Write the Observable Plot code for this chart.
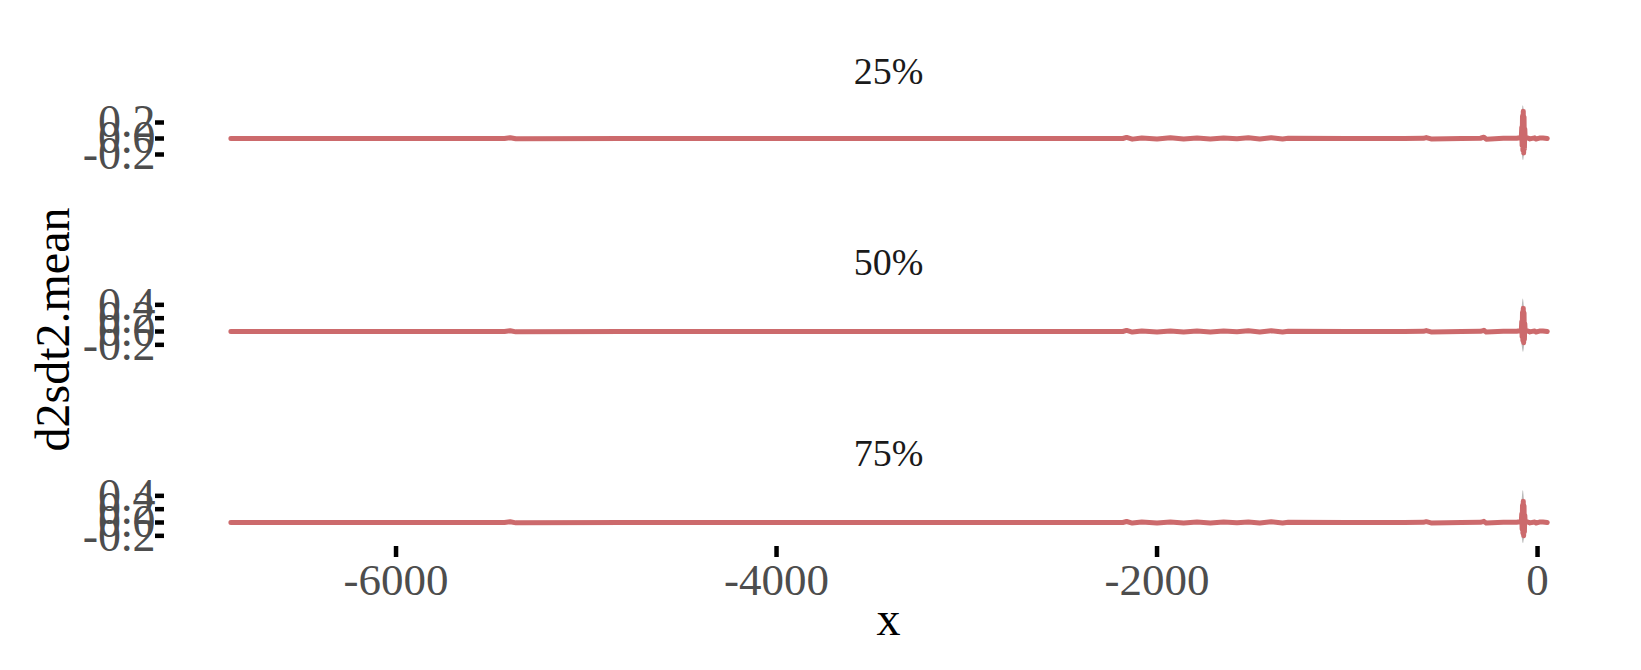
<!DOCTYPE html>
<html><head><meta charset="utf-8">
<script src="https://cdn.jsdelivr.net/npm/d3@7"></script>
<script src="https://cdn.jsdelivr.net/npm/@observablehq/plot@0.6"></script>
<style>
html,body{margin:0;padding:0;background:#fff;}
#chart{position:relative;width:1641px;height:670px;overflow:hidden;background:#fff;}
#chart svg{position:absolute;left:0;top:0;}
</style></head><body><div id="chart"></div>
<script>
const facetLabels = ["25%", "50%", "75%"];
const yTitle = "d2sdt2.mean";
const xTitle = "x";
const xTicks = [-6000, -4000, -2000, 0];
const yTicks25 = [-0.2, 0.0, 0.2];
const yTicks50 = [-0.2, 0.0, 0.2, 0.4];
const yTicks75 = [-0.2, 0.0, 0.2, 0.4];

const xs = [-6868, -6400, -5900, -5430, -5400, -5370, -4800, -4200, -3600, -3000,
  -2500, -2180, -2160, -2130, -2080, -2000, -1930, -1860, -1790, -1720,
  -1650, -1580, -1520, -1460, -1400, -1340, -1310, -1000, -700, -600,
  -585, -560, -400, -300, -282, -270, -180, -110, -92,
  -85, -83, -81, -79, -77, -75, -73, -71, -69, -67, -65,
  -55, -40, -15, -8, 10, 28, 51];

const mean25 = [0.000, 0.001, -0.001, 0.000, 0.010, -0.004, 0.001, 0.000, -0.001, 0.000,
  0.001, 0.000, 0.014, -0.008, 0.006, -0.005, 0.008, -0.006, 0.005, -0.007,
  0.006, -0.004, 0.009, -0.006, 0.010, -0.005, 0.004, 0.000, 0.001, 0.002,
  0.012, -0.006, 0.001, 0.003, 0.016, -0.008, 0.002, 0.003, 0.010,
  0.03, 0.14, -0.09, 0.28, -0.15, 0.34, -0.18, 0.27, -0.13, 0.12, 0.00,
  0.010, -0.005, 0.008, -0.006, 0.005, 0.007, 0.000];
const lo25 = [-0.010, -0.009, -0.011, -0.010, 0.000, -0.014, -0.009, -0.010, -0.011, -0.010,
  -0.009, -0.010, 0.002, -0.019, -0.005, -0.016, -0.003, -0.017, -0.006, -0.018,
  -0.005, -0.015, -0.002, -0.017, -0.001, -0.016, -0.007, -0.010, -0.009, -0.009,
  0.001, -0.017, -0.010, -0.009, 0.003, -0.021, -0.010, -0.010, -0.004,
  -0.03, -0.09, -0.18, -0.22, -0.26, -0.275, -0.275, -0.25, -0.21, -0.10, -0.03,
  -0.008, -0.017, -0.004, -0.018, -0.007, -0.005, -0.012];
const hi25 = [0.010, 0.011, 0.009, 0.010, 0.021, 0.006, 0.011, 0.010, 0.009, 0.010,
  0.011, 0.010, 0.026, 0.003, 0.017, 0.006, 0.019, 0.005, 0.016, 0.004,
  0.017, 0.007, 0.020, 0.005, 0.021, 0.006, 0.015, 0.010, 0.011, 0.013,
  0.024, 0.005, 0.012, 0.014, 0.029, 0.004, 0.013, 0.014, 0.024,
  0.08, 0.21, 0.29, 0.36, 0.40, 0.41, 0.40, 0.36, 0.29, 0.19, 0.04,
  0.022, 0.007, 0.019, 0.005, 0.016, 0.018, 0.010];

const mean50 = [0.000, 0.001, -0.001, 0.000, 0.012, -0.005, 0.001, 0.000, -0.001, 0.000,
  0.001, 0.000, 0.016, -0.009, 0.007, -0.006, 0.009, -0.007, 0.006, -0.008,
  0.007, -0.005, 0.010, -0.007, 0.011, -0.006, 0.005, 0.000, 0.001, 0.002,
  0.014, -0.007, 0.001, 0.003, 0.018, -0.009, 0.002, 0.003, 0.012,
  0.03, 0.15, -0.08, 0.29, -0.14, 0.35, -0.17, 0.28, -0.12, 0.12, 0.00,
  0.012, -0.006, 0.009, -0.007, 0.006, 0.008, 0.000];
const lo50 = [-0.013, -0.012, -0.014, -0.013, -0.001, -0.018, -0.012, -0.013, -0.014, -0.013,
  -0.012, -0.013, 0.002, -0.023, -0.006, -0.019, -0.004, -0.021, -0.007, -0.022,
  -0.006, -0.018, -0.003, -0.020, -0.002, -0.019, -0.008, -0.013, -0.012, -0.011,
  0.000, -0.021, -0.012, -0.011, 0.003, -0.025, -0.012, -0.011, -0.004,
  -0.04, -0.10, -0.20, -0.25, -0.29, -0.31, -0.31, -0.28, -0.24, -0.12, -0.04,
  -0.002, -0.020, -0.005, -0.021, -0.008, -0.006, -0.014];
const hi50 = [0.013, 0.014, 0.012, 0.013, 0.025, 0.008, 0.014, 0.013, 0.012, 0.013,
  0.014, 0.013, 0.030, 0.005, 0.020, 0.007, 0.022, 0.006, 0.019, 0.005,
  0.020, 0.008, 0.023, 0.006, 0.024, 0.007, 0.018, 0.013, 0.014, 0.015,
  0.028, 0.006, 0.014, 0.016, 0.032, 0.005, 0.015, 0.016, 0.028,
  0.09, 0.24, 0.34, 0.42, 0.47, 0.49, 0.47, 0.42, 0.33, 0.20, 0.05,
  0.026, 0.008, 0.023, 0.006, 0.019, 0.021, 0.013];

const mean75 = [0.000, 0.001, -0.001, 0.000, 0.011, -0.005, 0.001, 0.000, -0.001, 0.000,
  0.001, 0.000, 0.015, -0.009, 0.006, -0.006, 0.008, -0.007, 0.006, -0.008,
  0.006, -0.005, 0.009, -0.007, 0.010, -0.006, 0.005, 0.000, 0.001, 0.002,
  0.013, -0.007, 0.001, 0.003, 0.017, -0.009, 0.002, 0.003, 0.011,
  0.03, 0.13, -0.10, 0.26, -0.16, 0.32, -0.20, 0.25, -0.14, 0.11, 0.00,
  0.011, -0.006, 0.008, -0.007, 0.006, 0.007, 0.000];
const lo75 = [-0.013, -0.012, -0.014, -0.013, -0.002, -0.018, -0.012, -0.013, -0.014, -0.013,
  -0.012, -0.013, 0.001, -0.023, -0.007, -0.019, -0.005, -0.021, -0.007, -0.022,
  -0.007, -0.018, -0.004, -0.020, -0.003, -0.019, -0.008, -0.013, -0.012, -0.011,
  -0.001, -0.021, -0.012, -0.011, 0.002, -0.025, -0.012, -0.011, -0.005,
  -0.04, -0.11, -0.21, -0.26, -0.30, -0.315, -0.315, -0.28, -0.25, -0.12, -0.04,
  -0.003, -0.020, -0.006, -0.021, -0.008, -0.007, -0.014];
const hi75 = [0.013, 0.014, 0.012, 0.013, 0.024, 0.008, 0.014, 0.013, 0.012, 0.013,
  0.014, 0.013, 0.029, 0.005, 0.019, 0.007, 0.021, 0.006, 0.019, 0.005,
  0.019, 0.008, 0.022, 0.006, 0.023, 0.007, 0.018, 0.013, 0.014, 0.015,
  0.027, 0.006, 0.014, 0.016, 0.031, 0.005, 0.015, 0.016, 0.027,
  0.09, 0.22, 0.32, 0.40, 0.46, 0.48, 0.46, 0.40, 0.32, 0.19, 0.05,
  0.025, 0.008, 0.022, 0.006, 0.019, 0.020, 0.013];

const means = [mean25, mean50, mean75];
const lows = [lo25, lo50, lo75];
const highs = [hi25, hi50, hi75];
const yTicks = [yTicks25, yTicks50, yTicks75];

// layout (pixels)
const W = 1641, H = 670;
const xDomain = [-7217, 394];
const font = "'Liberation Serif','Times New Roman',Times,serif";
const lineColor = "#cc6a6c", bandColor = "#9b9b9b";
const layout = [
  {top: 102, bottom: 162, yDomain: [-0.30, 0.45], titleY: 71},
  {top: 295, bottom: 355, yDomain: [-0.36, 0.54], titleY: 262},
  {top: 486, bottom: 546, yDomain: [-0.36, 0.54], titleY: 453}
];

const chart = document.getElementById("chart");

layout.forEach((L, i) => {
  const rows = xs.map((x, j) => ({x, m: means[i][j], lo: lows[i][j], hi: highs[i][j]}));
  const marks = [
    Plot.areaY(rows, {x: "x", y1: "lo", y2: "hi", fill: bandColor, fillOpacity: 0.7}),
    Plot.lineY(rows, {x: "x", y: "m", stroke: lineColor, strokeWidth: 5, strokeLinejoin: "round", strokeLinecap: "round"}),
    Plot.axisY(yTicks[i], {tickSize: 9, tickFormat: () => "", stroke: "#000", strokeWidth: 4.5, label: null}),
    Plot.axisY(yTicks[i], {tickSize: 0, tickPadding: 9, tickFormat: d => d.toFixed(1), fontSize: 46, color: "#4d4d4d", label: null}),
    Plot.text([facetLabels[i]], {text: d => d, frameAnchor: "top", lineAnchor: "middle", dy: L.titleY - L.top, fontSize: 38, fill: "#1a1a1a"})
  ];
  if (i === 1) {
    marks.push(Plot.text([yTitle], {text: d => d, frameAnchor: "left", textAnchor: "middle", lineAnchor: "middle", rotate: -90, dx: 53 - 164, dy: 4, fontSize: 48, fill: "#000"}));
  }
  if (i === 2) {
    marks.push(Plot.axisX(xTicks, {tickSize: 11, tickFormat: () => "", stroke: "#000", strokeWidth: 4.5, label: null}));
    marks.push(Plot.axisX(xTicks, {tickSize: 0, tickPadding: 17, tickFormat: d => String(d), fontSize: 45, color: "#4d4d4d", label: null}));
    marks.push(Plot.text([xTitle], {text: d => d, frameAnchor: "bottom", lineAnchor: "middle", dy: 73, fontSize: 48, fill: "#000"}));
  }
  const svg = Plot.plot({
    width: W, height: H,
    marginLeft: 164, marginRight: 29,
    marginTop: L.top, marginBottom: H - L.bottom,
    style: {fontFamily: font, background: "transparent", overflow: "visible"},
    x: {domain: xDomain, axis: i === 2 ? undefined : null},
    y: {domain: L.yDomain},
    marks
  });
  chart.appendChild(svg);
});
</script>
</body></html>
